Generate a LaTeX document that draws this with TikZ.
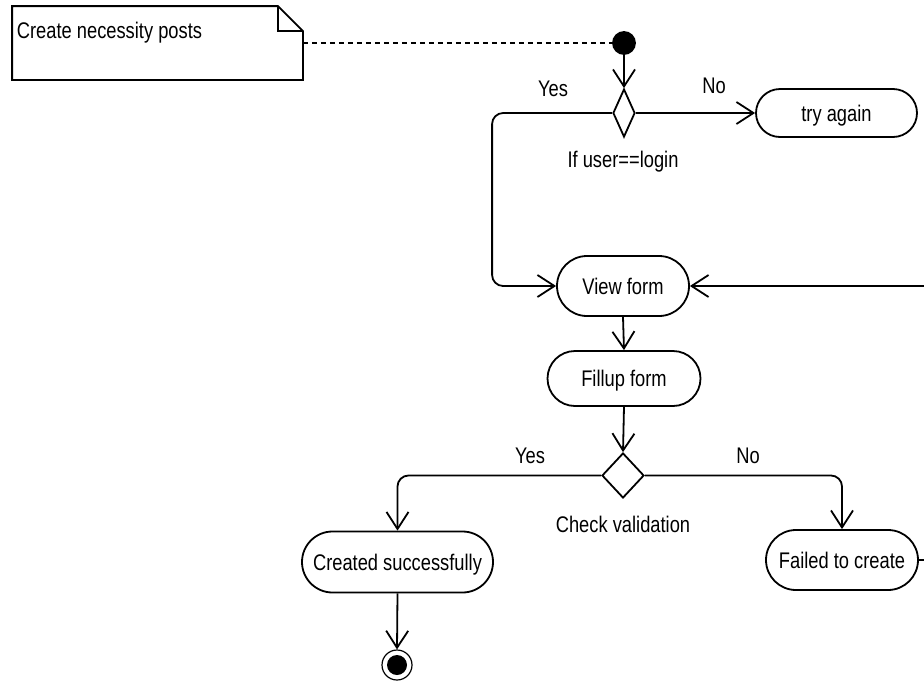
\documentclass[tikz,border=0pt]{standalone}
\usepackage{fontspec}
\setmainfont{Liberation Sans}[FakeStretch=0.81]
\usetikzlibrary{arrows.meta,shapes.geometric,shapes.misc}
\begin{document}
\begin{tikzpicture}[x=1pt,y=-1pt,line width=1.8pt,
  font=\fontsize{22.6}{26}\selectfont,
  act/.style={draw,rounded rectangle,inner sep=0pt,text height=16pt,text depth=0pt},
  dec/.style={draw,diamond,inner sep=0pt,fill=white},
  lbl/.style={inner sep=0pt},
  arr/.style={-{Straight Barb[length=17pt,width=22pt,line width=1.8pt]}},
  rc/.style={rounded corners=11pt}]
\path[use as bounding box] (0,0) rectangle (924,683);
\clip (0,0) rectangle (924,683);
% note
\node[minimum width=289pt,minimum height=72pt,inner sep=0pt] (note) at (157.5,43) {};
\draw (note.south west) -- (note.north west) -- ([xshift=-25pt]note.north east)
  -- ([yshift=-25pt]note.north east) -- (note.south east) -- cycle;
\draw ([xshift=-25pt]note.north east) -- ([xshift=-25pt,yshift=-25pt]note.north east)
  -- ([yshift=-25pt]note.north east);
\node[lbl,anchor=base west] (notetext) at (16,38) {Create necessity posts};
% start
\node[circle,fill=black,draw,minimum size=22pt,inner sep=0pt] (start) at (624,43) {};
\draw[dashed,dash pattern=on 5pt off 4pt] (note.east) -- (start.west);
% nodes
\node[dec,minimum width=22pt,minimum height=48pt] (d1) at (624,113) {};
\node[act,minimum width=161pt,minimum height=48pt] (try) at (836.5,113) {try again};
\node[act,minimum width=132pt,minimum height=60pt] (view) at (623,286) {View form};
\node[act,minimum width=153pt,minimum height=55pt] (fill) at (624,378.5) {Fillup form};
\node[dec,minimum width=42pt,minimum height=45pt] (d2) at (623,475.5) {};
\node[act,minimum width=191pt,minimum height=61pt] (cs) at (397.5,562) {Created successfully};
\node[act,minimum width=152pt,minimum height=60pt] (fail) at (842,560) {Failed to create};
\node[circle,draw,minimum size=30pt,inner sep=0pt,line width=1.2pt] (end) at (397,665) {};
\node[circle,fill=black,minimum size=20pt,inner sep=0pt] (endin) at (397,665) {};
% labels
\node[lbl] (y1) at (553,89) {Yes};
\node[lbl] (n1) at (714,86) {No};
\node[lbl] (c1) at (623,162) {If user==login};
\node[lbl] (y2) at (530,456) {Yes};
\node[lbl] (n2) at (748,456) {No};
\node[lbl] (c2) at (623,524) {Check validation};
% connectors
\draw[arr] (start.south) -- (d1.north);
\draw[arr] (d1.east) -- (try.west);
\draw[arr,rc] (d1.west) -| ([xshift=-64pt]view.west) -- (view.west);
\draw[arr] (view.south) -- (fill.north);
\draw[arr] (fill.south) -- (d2.north);
\draw[arr,rc] (d2.west) -| (cs.north);
\draw[arr,rc] (d2.east) -| (fail.north);
\draw[arr] (cs.south) -- (end.north);
\draw[arr,rc] (fail.east) -- ([xshift=30pt]fail.east) |- (view.east);
\end{tikzpicture}
\end{document}
